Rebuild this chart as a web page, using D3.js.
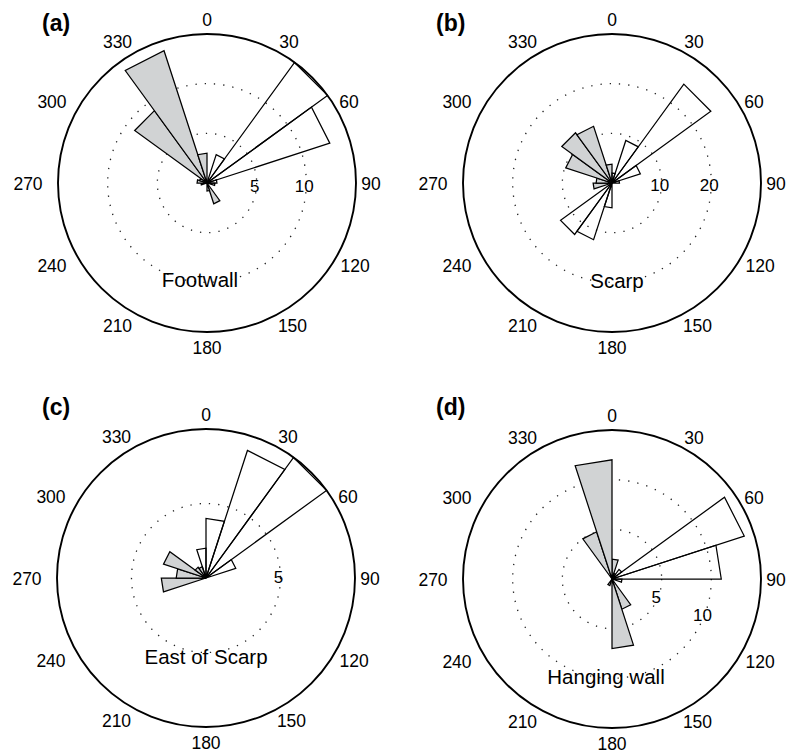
<!DOCTYPE html>
<html>
<head>
<meta charset="utf-8">
<script src="https://cdn.jsdelivr.net/npm/d3@7"></script>
<style>
  body { margin: 0; background: #fff; }
  svg { display: block; }
  text { font-family: "Liberation Sans", Arial, Helvetica, sans-serif; fill: #000; }
</style>
</head>
<body>
<div id="chart"></div>
<script>
// rose diagrams, 20 bins of 18 degrees each (bin i covers i*18 .. (i+1)*18)
var binWidth = 18;
var angleTicks = [0, 30, 60, 90, 120, 150, 180, 210, 240, 270, 300, 330];

// (a) Footwall
var footwallOpen   = [0, 3, 15, 13, 1, 0.8, 0, 0, 0, 0, 0, 0, 0, 0, 0, 0, 0, 0, 0, 0];
var footwallFilled = [0, 0, 0, 0, 0, 0, 0, 0, 2.2, 0.8, 0, 0, 0, 0, 0.6, 1, 0.8, 9, 14, 3];
// (b) Scarp
var scarpOpen   = [2, 9, 24.6, 6, 1.5, 0, 0, 0, 0, 0, 5, 12, 12.8, 0, 0, 0, 0, 0, 0, 0];
var scarpFilled = [0, 0, 0, 0, 0, 0, 0, 0, 0, 0, 0, 0, 0, 0, 3.8, 3.2, 9.8, 12.5, 12, 3.8];
// (c) East of Scarp
var eastOpen   = [4, 9, 10, 2.1, 0, 0, 0, 0, 0, 0, 0, 0, 0, 0, 0, 0, 0, 0, 0, 2];
var eastFilled = [0, 0, 0, 0, 0, 0, 0, 0, 0, 0, 0, 0, 0, 0, 3, 2, 3, 0.9, 0.8, 0];
// (d) Hanging wall
var hangingOpen   = [0, 0.6, 1.2, 14, 11, 1, 0, 0, 0, 0, 0, 0, 0, 0, 0, 0, 0, 0, 0, 0];
var hangingFilled = [2, 0, 0, 0, 0, 0, 0, 0, 3.2, 7, 0, 0.7, 0, 0, 0, 0, 0, 0, 5, 12];

var panels = [
  { letter: "(a)", name: "Footwall", open: footwallOpen, filled: footwallFilled,
    rmax: 15, rings: [5, 10], cx: 207, cy: 183, ringAng: 90, ringDy: 3, nameDx: -7, nameDy: 103.5, lx: 42, ly: 30.5 },
  { letter: "(b)", name: "Scarp", open: scarpOpen, filled: scarpFilled,
    rmax: 30, rings: [10, 20], cx: 612, cy: 183, ringAng: 90, ringDy: 2, nameDx: 5, nameDy: 105, lx: 436, ly: 30.5 },
  { letter: "(c)", name: "East of Scarp", open: eastOpen, filled: eastFilled,
    rmax: 10, rings: [5], cx: 206, cy: 578, ringAng: 90, ringDy: -1, nameDx: 0, nameDy: 85.5, lx: 42, ly: 415 },
  { letter: "(d)", name: "Hanging wall", open: hangingOpen, filled: hangingFilled,
    rmax: 15, rings: [5, 10], cx: 612, cy: 579, ringAng: 111.5, ringDy: 0, nameDx: -6, nameDy: 105, lx: 436, ly: 415 }
];

var W = 788, H = 753, R = 149;
var svg = d3.select("#chart").append("svg").attr("width", W).attr("height", H);

function polar(r, deg) {
  var a = deg * Math.PI / 180;
  return [r * Math.sin(a), -r * Math.cos(a)];
}

// rose petal: triangle from the centre to the two bin edges
function wedge(r, i) {
  var p = d3.path();
  var a = polar(r, i * binWidth), b = polar(r, (i + 1) * binWidth);
  p.moveTo(0, 0); p.lineTo(a[0], a[1]); p.lineTo(b[0], b[1]); p.closePath();
  return p.toString();
}

panels.forEach(function (pn) {
  var rs = d3.scaleLinear().domain([0, pn.rmax]).range([0, R]);
  var g = svg.append("g").attr("transform", "translate(" + pn.cx + "," + pn.cy + ")");

  // dotted rings
  g.selectAll("circle.ring").data(pn.rings).enter().append("circle")
    .attr("class", "ring").attr("r", function (d) { return rs(d); })
    .attr("fill", "none").attr("stroke", "#222").attr("stroke-width", 1.3)
    .attr("stroke-dasharray", "1.3 8");

  // filled bins
  g.selectAll("path.filled").data(pn.filled).enter().append("path")
    .attr("class", "filled")
    .attr("d", function (d, i) { return d > 0 ? wedge(rs(d), i) : null; })
    .attr("fill", "#d1d3d4").attr("stroke", "#000").attr("stroke-width", 1.25);

  // open bins
  g.selectAll("path.open").data(pn.open).enter().append("path")
    .attr("class", "open")
    .attr("d", function (d, i) { return d > 0 ? wedge(rs(d), i) : null; })
    .attr("fill", "none").attr("stroke", "#000").attr("stroke-width", 1.25);

  // outer circle
  g.append("circle").attr("r", rs(pn.rmax))
    .attr("fill", "none").attr("stroke", "#000").attr("stroke-width", 1.9);

  // ring labels
  pn.rings.forEach(function (v) {
    var p = polar(rs(v) - 2, pn.ringAng);
    g.append("text").attr("x", p[0]).attr("y", p[1] + pn.ringDy).attr("dy", "0.36em")
      .attr("text-anchor", "middle").style("font-size", "17px").text(v);
  });

  // angle labels
  angleTicks.forEach(function (t) {
    var rx = t <= 90 ? 164 : (t < 180 ? 171 : (t === 180 ? 164 : 179));
    var a = t * Math.PI / 180;
    var x = rx * Math.sin(a), y = -164 * Math.cos(a) + 0.5;
    g.append("text").attr("x", x).attr("y", y).attr("dy", "0.36em")
      .attr("text-anchor", "middle").style("font-size", "17.5px").text(t);
  });

  // region name
  g.append("text").attr("x", pn.nameDx).attr("y", pn.nameDy)
    .attr("text-anchor", "middle").style("font-size", "20.5px").text(pn.name);

  // panel letter
  svg.append("text").attr("x", pn.lx).attr("y", pn.ly)
    .style("font-size", "23px").style("font-weight", "bold").text(pn.letter);
});
</script>
</body>
</html>
